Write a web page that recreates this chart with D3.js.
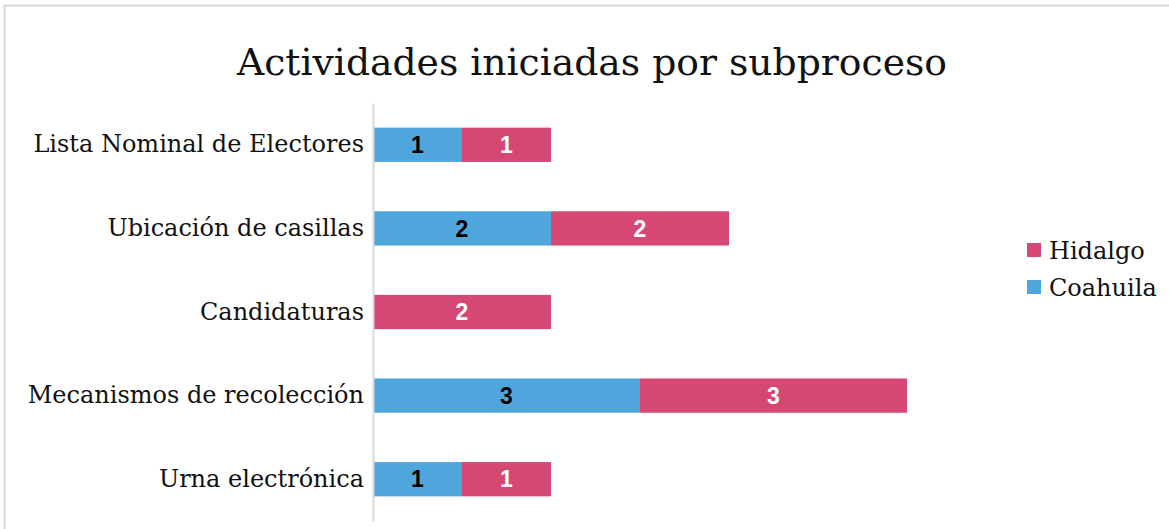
<!DOCTYPE html>
<html>
<head>
<meta charset="utf-8">
<script src="https://cdn.jsdelivr.net/npm/d3@7"></script>
<style>
  body { margin: 0; background: #fff; }
  svg { display: block; }
</style>
</head>
<body>
<svg width="1169" height="529"></svg>
<script>
// data
const categories = ["Lista Nominal de Electores", "Ubicación de casillas", "Candidaturas", "Mecanismos de recolección", "Urna electrónica"];
const seriesNames = ["Coahuila", "Hidalgo"];
const coahuila = [1, 2, 0, 3, 1];
const hidalgo = [1, 2, 2, 3, 1];
const colors = ["#4FA6DC", "#D54873"];
const labelColors = ["#000", "#fff"];

const width = 1169;
const height = 529;

const svg = d3.select("svg");

// frame
svg.append("rect")
    .attr("x", 4.5)
    .attr("y", 5.5)
    .attr("width", width + 10)
    .attr("height", height + 10)
    .attr("fill", "#fff")
    .attr("stroke", "#d9d9d9")
    .attr("stroke-width", 2);

svg.append("text")
    .attr("x", 592)
    .attr("y", 75)
    .attr("text-anchor", "middle")
    .attr("font-family", "DejaVu Serif")
    .attr("font-size", 37.7)
    .attr("fill", "#111")
    .text("Actividades iniciadas por subproceso");

const rows = categories.map((c, i) => ({cat: c, vals: [coahuila[i], hidalgo[i]]}));

const yScale = d3.scaleBand()
    .domain(categories)
    .range([103, 521])
    .paddingInner(0.59)
    .paddingOuter(0.295);

const xScale = d3.scaleLinear()
    .domain([0, 6])
    .range([373, 907]);

const stack = d3.stack().keys([0, 1]).value((d, k) => d.vals[k]);
const layers = stack(rows);

const g = svg.selectAll("g.layer")
    .data(layers)
    .join("g")
    .attr("class", "layer")
    .attr("fill", (d, i) => colors[i]);

g.selectAll("rect")
    .data(d => d)
    .join("rect")
    .attr("x", d => xScale(d[0]))
    .attr("y", d => yScale(d.data.cat))
    .attr("width", d => xScale(d[1]) - xScale(d[0]))
    .attr("height", yScale.bandwidth());

// value labels
layers.forEach((layer, li) => {
    svg.append("g")
        .selectAll("text")
        .data(layer.filter(d => d[1] - d[0] > 0))
        .join("text")
        .attr("x", d => (xScale(d[0]) + xScale(d[1])) / 2)
        .attr("y", d => yScale(d.data.cat) + yScale.bandwidth() / 2)
        .attr("dy", "0.36em")
        .attr("text-anchor", "middle")
        .attr("font-family", "Liberation Sans, Arial, sans-serif")
        .attr("font-weight", "bold")
        .attr("font-size", 23)
        .attr("fill", labelColors[li])
        .text(d => d[1] - d[0]);
});

// left axis
const leftAxis = d3.axisLeft(yScale).tickSize(0).tickPadding(9);
const ax = svg.append("g")
    .attr("transform", "translate(373,0)")
    .call(leftAxis);
ax.select(".domain").attr("stroke", "#d9d9d9").attr("stroke-width", 2);
ax.selectAll("text")
    .attr("font-family", "DejaVu Serif")
    .attr("font-size", 24)
    .attr("fill", "#111");

// legend
const legendItems = [1, 0];
const lg = svg.append("g");
legendItems.forEach((s, i) => {
    const y = 250 + i * 37;
    lg.append("rect")
        .attr("x", 1027)
        .attr("y", y - 7)
        .attr("width", 14)
        .attr("height", 14)
        .attr("fill", colors[s]);
    lg.append("text")
        .attr("x", 1049)
        .attr("y", y)
        .attr("dy", "0.36em")
        .attr("font-family", "DejaVu Serif")
        .attr("font-size", 24)
        .attr("fill", "#111")
        .text(seriesNames[s]);
});
</script>
</body>
</html>
